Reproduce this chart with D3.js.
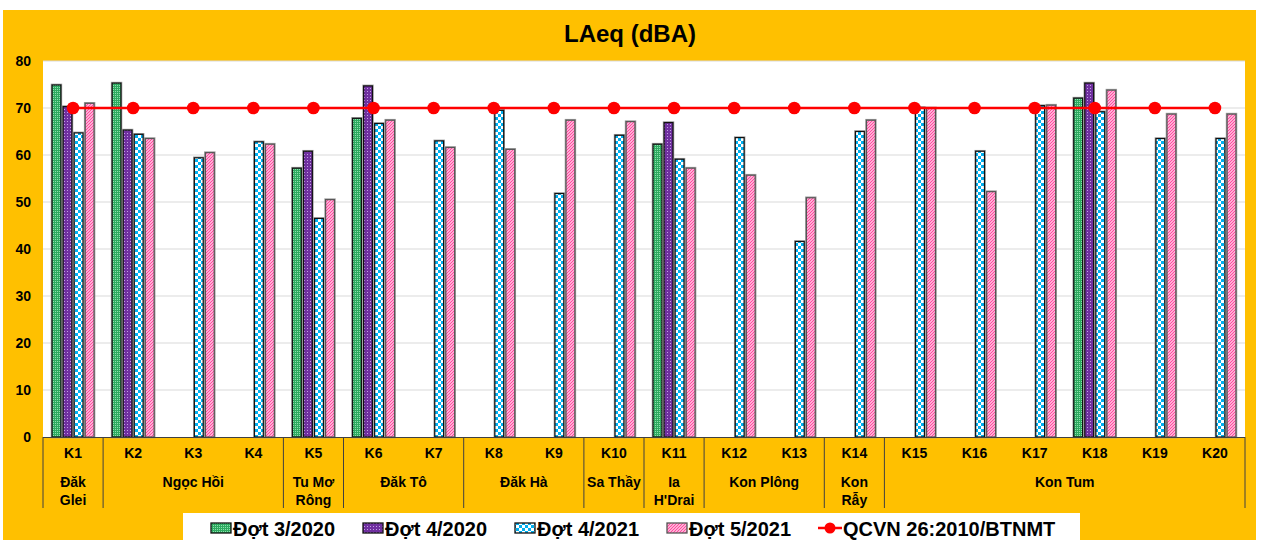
<!DOCTYPE html>
<html><head><meta charset="utf-8">
<script src="https://cdn.jsdelivr.net/npm/d3@7"></script>
<style>body{margin:0;background:#fff;}svg{display:block;font-family:"Liberation Sans",Arial,sans-serif;}</style>
</head><body><svg id="c" width="1261" height="540"></svg>
<script>
const categories = ["K1","K2","K3","K4","K5","K6","K7","K8","K9","K10","K11","K12","K13","K14","K15","K16","K17","K18","K19","K20"];
const groups = [
  {name:["Đăk","Glei"], from:0, to:0},
  {name:["Ngọc Hồi"], from:1, to:3},
  {name:["Tu Mơ","Rông"], from:4, to:4},
  {name:["Đăk Tô"], from:5, to:6},
  {name:["Đăk Hà"], from:7, to:8},
  {name:["Sa Thầy"], from:9, to:9},
  {name:["Ia","H'Drai"], from:10, to:10},
  {name:["Kon Plông"], from:11, to:12},
  {name:["Kon","Rẫy"], from:13, to:13},
  {name:["Kon Tum"], from:14, to:19}
];
const dot3_2020 = [74.9,75.3,null,null,57.2,67.8,null,null,null,null,62.3,null,null,null,null,null,null,72.1,null,null];
const dot4_2020 = [70.3,65.3,null,null,60.8,74.7,null,null,null,null,66.9,null,null,null,null,null,null,75.3,null,null];
const dot4_2021 = [64.7,64.4,59.4,62.8,46.5,66.7,63.0,69.5,51.8,64.2,59.1,63.7,41.6,65.0,70.1,60.8,70.5,69.2,63.5,63.5];
const dot5_2021 = [71.0,63.5,60.5,62.3,50.5,67.4,61.6,61.2,67.4,67.1,57.2,55.7,50.9,67.4,70.0,52.2,70.6,73.8,68.7,68.7];
const qcvn = [70,70,70,70,70,70,70,70,70,70,70,70,70,70,70,70,70,70,70,70];
const seriesNames = ["Đợt 3/2020","Đợt 4/2020","Đợt 4/2021","Đợt 5/2021"];
const lineName = "QCVN 26:2010/BTNMT";
const yTicks = [0,10,20,30,40,50,60,70,80];
const title = "LAeq (dBA)";

const series = [dot3_2020, dot4_2020, dot4_2021, dot5_2021];
const svg = d3.select("#c");
const defs = svg.append("defs");

function pat(id, w, h, build){ const p = defs.append("pattern").attr("id",id).attr("patternUnits","userSpaceOnUse").attr("width",w).attr("height",h).attr("shape-rendering","crispEdges"); build(p); }
pat("pGreen",2,2,p=>{p.append("rect").attr("width",2).attr("height",2).attr("fill","#2eaa60");p.append("rect").attr("x",1).attr("y",1).attr("width",1).attr("height",1).attr("fill","#8be0ad");});
pat("pPurple",3,3,p=>{p.append("rect").attr("width",3).attr("height",3).attr("fill","#7030a0");p.append("rect").attr("x",1).attr("y",1).attr("width",1).attr("height",1).attr("fill","#c3a0e4");});
pat("pBlue",6,6,p=>{p.append("rect").attr("width",6).attr("height",6).attr("fill","#ffffff");p.append("rect").attr("width",3).attr("height",3).attr("fill","#00b0f0");p.append("rect").attr("x",3).attr("y",3).attr("width",3).attr("height",3).attr("fill","#00b0f0");});
pat("pPink",3,3,p=>{p.append("rect").attr("width",3).attr("height",3).attr("fill","#ffffff");p.append("path").attr("d","M0,3 L3,0 M-1,1 L1,-1 M2,4 L4,2").attr("stroke","#ff4aa0").attr("stroke-width",1.3).attr("shape-rendering","auto");});
const fills = ["url(#pGreen)","url(#pPurple)","url(#pBlue)","url(#pPink)"];
const strokes = ["#111","#111","#111","#555"];

svg.append("rect").attr("x",3).attr("y",10).attr("width",1253).attr("height",530).attr("fill","#ffc000");

const x0 = 43, x1 = 1245, yTop = 61, yBot = 437;
const x = d3.scaleBand().domain(categories).range([x0,x1]).paddingInner(0).paddingOuter(0);
const y = d3.scaleLinear().domain([0,80]).range([yBot,yTop]);

svg.append("rect").attr("x",x0).attr("y",yTop).attr("width",x1-x0).attr("height",yBot-yTop).attr("fill","#fff");

svg.append("text").attr("x",630).attr("y",42).attr("text-anchor","middle").attr("font-size",24).attr("font-weight","bold").attr("fill","#000").text(title);

svg.append("g").selectAll("line").data(yTicks.filter(t=>t>0)).join("line")
  .attr("x1",x0).attr("x2",x1).attr("y1",d=>y(d)).attr("y2",d=>y(d)).attr("stroke","#d9d9d9").attr("stroke-width",1);

const yAxis = d3.axisLeft(y).tickValues(yTicks).tickSize(0).tickPadding(0);
const gy = svg.append("g").attr("transform","translate(31,0)").call(yAxis);
gy.select(".domain").remove();
gy.selectAll("text").attr("font-size",14).attr("font-weight","bold").attr("fill","#000").attr("font-family","Liberation Sans, Arial, sans-serif");

const sub = d3.scaleBand().domain([0,1,2,3]).range([0,42]).paddingInner(0.2);
const gb = svg.append("g");
series.forEach((vals,si)=>{
  const data = categories.map((c,i)=>({c,v:vals[i]})).filter(d=>d.v!=null);
  const g = gb.append("g");
  g.selectAll("rect.halo").data(data).join("rect").attr("class","halo")
    .attr("x",d=>x(d.c)+x.bandwidth()/2-21+sub(si))
    .attr("y",d=>y(d.v))
    .attr("width",sub.bandwidth())
    .attr("height",d=>y(0)-y(d.v))
    .attr("fill","none").attr("stroke","#a0a0a0").attr("stroke-width",2.6);
  g.selectAll("rect.bar").data(data).join("rect").attr("class","bar")
    .attr("x",d=>x(d.c)+x.bandwidth()/2-21+sub(si))
    .attr("y",d=>y(d.v))
    .attr("width",sub.bandwidth())
    .attr("height",d=>y(0)-y(d.v))
    .attr("fill",fills[si]).attr("stroke",strokes[si]).attr("stroke-width",1.2);
});

svg.append("line").attr("x1",x0).attr("x2",x1).attr("y1",yBot+0.5).attr("y2",yBot+0.5).attr("stroke","#404040").attr("stroke-width",1);

const seps = [0].concat(groups.map(g=>g.to+1));
svg.append("g").selectAll("line").data(seps).join("line")
  .attr("x1",d=>d<categories.length?x(categories[d]):x1).attr("x2",d=>d<categories.length?x(categories[d]):x1)
  .attr("y1",yBot).attr("y2",508).attr("stroke","#404040").attr("stroke-width",1);

const xAxis = d3.axisBottom(x).tickSize(0).tickPadding(0);
const gx = svg.append("g").attr("transform",`translate(0,${yBot+11})`).call(xAxis);
gx.select(".domain").remove();
gx.selectAll("text").attr("font-size",14).attr("font-weight","bold").attr("fill","#000").attr("font-family","Liberation Sans, Arial, sans-serif");

const gg = svg.append("g");
groups.forEach(g=>{
  const cx = (x(categories[g.from]) + x(categories[g.to]) + x.bandwidth())/2;
  g.name.forEach((t,i)=>{
    gg.append("text").attr("x",cx).attr("y",487+i*18).attr("text-anchor","middle").attr("font-size",14).attr("font-weight","bold").attr("fill","#000").text(t);
  });
});

const line = d3.line().x((d,i)=>x(categories[i])+x.bandwidth()/2).y(d=>y(d));
svg.append("path").datum(qcvn).attr("d",line).attr("fill","none").attr("stroke","#ff0000").attr("stroke-width",2.5);
svg.append("g").selectAll("circle").data(qcvn).join("circle")
  .attr("cx",(d,i)=>x(categories[i])+x.bandwidth()/2).attr("cy",d=>y(d)).attr("r",6.3).attr("fill","#ff0000");

svg.append("rect").attr("x",183).attr("y",513).attr("width",897).attr("height",27).attr("fill","#fff");
const legX = [211,363,515,667];
seriesNames.forEach((n,i)=>{
  svg.append("rect").attr("x",legX[i]).attr("y",523).attr("width",20).attr("height",10).attr("fill",fills[i]).attr("stroke",strokes[i]).attr("stroke-width",1.3);
  svg.append("text").attr("x",legX[i]+22).attr("y",536).attr("font-size",20).attr("font-weight","bold").attr("fill","#000").text(n);
});
svg.append("line").attr("x1",818).attr("x2",842).attr("y1",528).attr("y2",528).attr("stroke","#ff0000").attr("stroke-width",2.5);
svg.append("circle").attr("cx",830).attr("cy",528).attr("r",5.5).attr("fill","#ff0000");
svg.append("text").attr("x",843).attr("y",536).attr("font-size",20).attr("font-weight","bold").attr("fill","#000").text(lineName);
</script>
</body></html>
